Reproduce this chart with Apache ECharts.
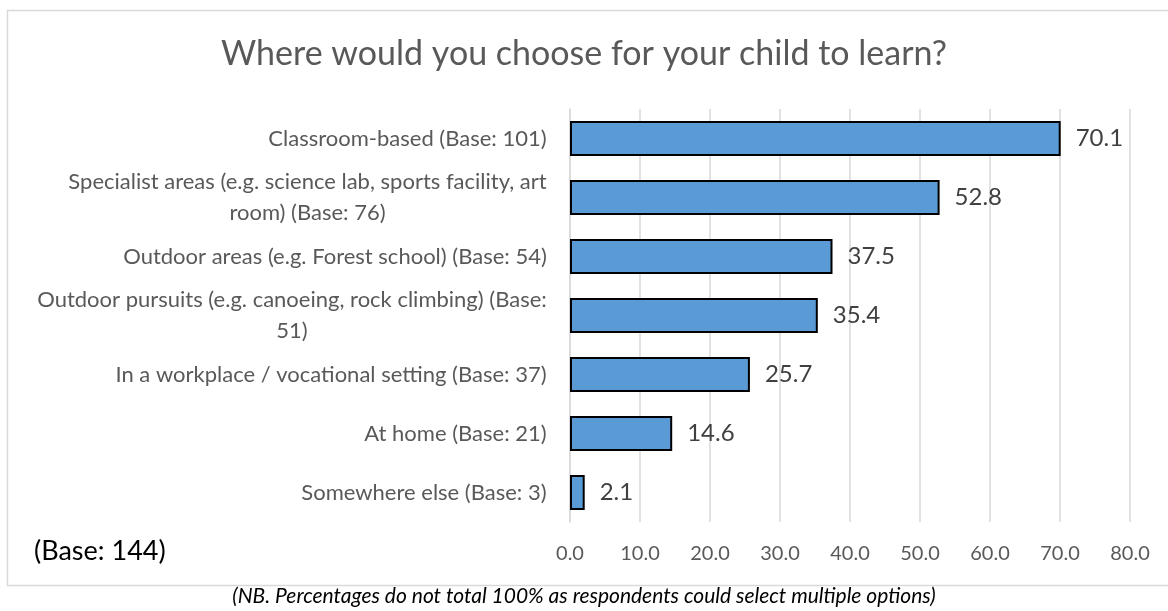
<!DOCTYPE html>
<html>
<head>
<meta charset="utf-8">
<script src="https://cdn.jsdelivr.net/npm/echarts@6/dist/echarts.min.js"></script>
<style>
  html, body { margin: 0; padding: 0; background: #fff; }
  #chart { width: 1168px; height: 611px; }
</style>
</head>
<body>
<div id="chart"></div>
<script>
// data
var categories = [
    'Classroom-based (Base: 101)',
    'Specialist areas (e.g. science lab, sports facility, art\nroom) (Base: 76)',
    'Outdoor areas (e.g. Forest school) (Base: 54)',
    'Outdoor pursuits (e.g. canoeing, rock climbing) (Base:\n51)',
    'In a workplace / vocational setting (Base: 37)',
    'At home (Base: 21)',
    'Somewhere else (Base: 3)'
];
var values = [70.1, 52.8, 37.5, 35.4, 25.7, 14.6, 2.1];
var xTicks = [0, 10, 20, 30, 40, 50, 60, 70, 80];

var FONT = 'Lato';
var labelSize = 22;

// measure text so wrapped labels get centred lines like the original
var ctx = document.createElement('canvas').getContext('2d');
ctx.font = labelSize + 'px ' + FONT;
function lineWidth(s) { return Math.ceil(ctx.measureText(s).width); }

var rich = {};
categories.forEach(function (c, i) {
    var lines = c.split('\n');
    var w = Math.max.apply(null, lines.map(lineWidth));
    rich['c' + i] = { width: w, align: 'center', fontSize: labelSize, fontFamily: FONT, color: '#595959', lineHeight: 31 };
});

var chart = echarts.init(document.getElementById('chart'));
var option = {
    animation: false,
    title: {
        text: 'Where would you choose for your child to learn?',
        left: 'center',
        top: 32,
        textStyle: { fontFamily: FONT, fontSize: 34, fontWeight: 'normal', color: '#595959' }
    },
    grid: { left: 570, right: 38, top: 109, bottom: 89, containLabel: false },
    xAxis: {
        type: 'value',
        min: xTicks[0],
        max: xTicks[xTicks.length - 1],
        interval: 10,
        axisLine: { show: false },
        axisTick: { show: false },
        splitLine: { lineStyle: { color: '#d9d9d9', width: 1.5 } },
        axisLabel: {
            margin: 22,
            fontFamily: FONT,
            fontSize: 20,
            color: '#595959',
            formatter: function (v) { return v.toFixed(1); }
        }
    },
    yAxis: {
        type: 'category',
        inverse: true,
        data: categories,
        axisLine: { show: true, lineStyle: { color: '#d9d9d9', width: 1.5 } },
        axisTick: { show: false },
        axisLabel: {
            margin: 23,
            formatter: function (v, i) {
                return v.split('\n').map(function (l) { return '{c' + i + '|' + l + '}'; }).join('\n');
            },
            rich: rich
        }
    },
    series: [{
        type: 'bar',
        data: values,
        barCategoryGap: '41%',
        itemStyle: { color: '#5b9bd5', borderColor: '#000', borderWidth: 2 },
        label: {
            show: true,
            position: 'right',
            distance: 15,
            fontFamily: FONT,
            fontSize: 24,
            color: '#404040',
            formatter: function (p) { return p.value.toFixed(1); }
        }
    }],
    graphic: [
        {
            type: 'rect',
            shape: { x: 7.5, y: 10.5, width: 1170, height: 575 },
            style: { fill: 'none', stroke: '#d9d9d9', lineWidth: 1.5 },
            silent: true
        },
        {
            type: 'text',
            left: 34,
            top: 538,
            style: { text: '(Base: 144)', fontFamily: FONT, fontSize: 27, fill: '#000' }
        },
        {
            type: 'text',
            left: 'center',
            top: 586,
            style: {
                text: '(NB. Percentages do not total 100% as respondents could select multiple options)',
                fontFamily: FONT, fontSize: 21, fontStyle: 'italic', fill: '#000'
            }
        }
    ]
};
chart.setOption(option);
</script>
</body>
</html>
